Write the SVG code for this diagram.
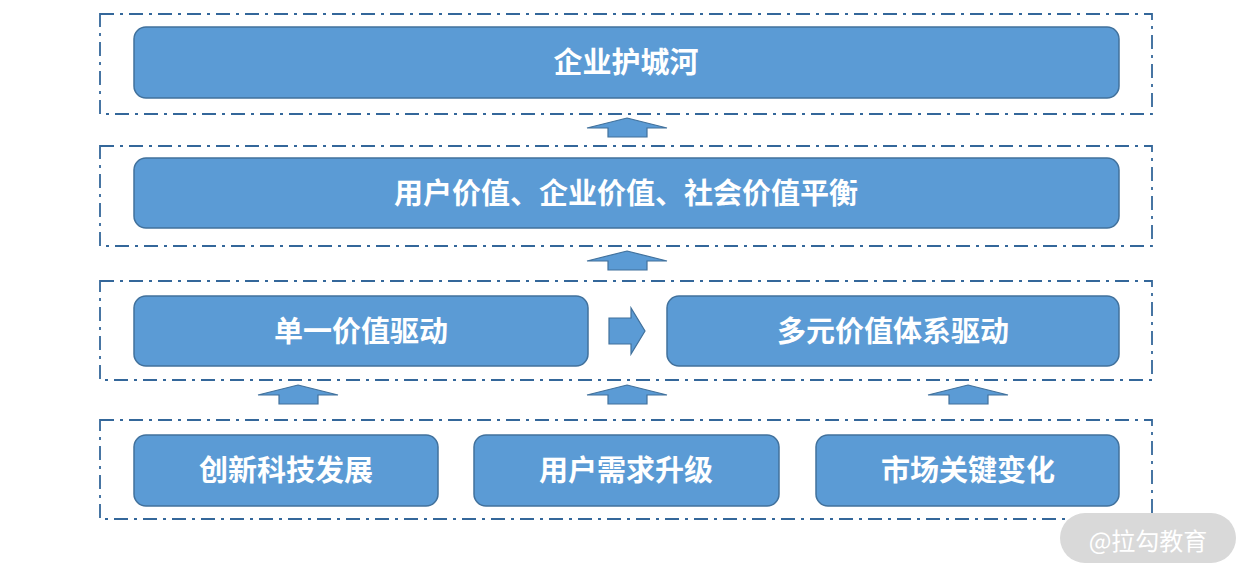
<svg xmlns="http://www.w3.org/2000/svg" width="1252" height="579" viewBox="0 0 1252 579">
<style>
.frame{fill:none;stroke:#34679a;stroke-width:1.8;stroke-dasharray:14 6 3 6}
.node rect{fill:#5b9bd5;stroke:#41719c;stroke-width:1.5}
.node text{fill:#fff;font-family:"Noto Sans CJK SC","Liberation Sans",sans-serif;font-weight:bold;font-size:29px;text-anchor:middle;dominant-baseline:central}
.arr{fill:#5b9bd5;stroke:#41719c;stroke-width:1.2}
</style>
<rect width="1252" height="579" fill="#fff"/>
<g id="frames">
<rect class="frame" x="100" y="14" width="1052" height="100"/>
<rect class="frame" x="100" y="146" width="1052" height="100"/>
<rect class="frame" x="100" y="281" width="1052" height="99"/>
<rect class="frame" x="100" y="420" width="1052" height="99"/>
</g>
<g id="n1" class="node"><rect x="134" y="27" width="985" height="71" rx="12"/><text x="626" y="60">企业护城河</text></g>
<g id="n2" class="node"><rect x="134" y="158" width="985" height="70" rx="12"/><text x="626" y="191">用户价值、企业价值、社会价值平衡</text></g>
<g id="n3" class="node"><rect x="134" y="296" width="454" height="70" rx="12"/><text x="361" y="329">单一价值驱动</text></g>
<g id="n4" class="node"><rect x="667" y="296" width="452" height="70" rx="12"/><text x="893" y="329">多元价值体系驱动</text></g>
<g id="n5" class="node"><rect x="134" y="435" width="304" height="71" rx="12"/><text x="286" y="468">创新科技发展</text></g>
<g id="n6" class="node"><rect x="474" y="435" width="305" height="71" rx="12"/><text x="626" y="468">用户需求升级</text></g>
<g id="n7" class="node"><rect x="816" y="435" width="303" height="71" rx="12"/><text x="968" y="468">市场关键变化</text></g>
<g id="connectors">
<polygon class="arr" points="627,118 667,128 647,128 647,137 608,137 608,128 587,128"/>
<polygon class="arr" points="627,251 667,261 647,261 647,270 608,270 608,261 587,261"/>
<polygon class="arr" points="298,385 338,395 318,395 318,404 279,404 279,395 258,395"/>
<polygon class="arr" points="627,385 667,395 647,395 647,404 608,404 608,395 587,395"/>
<polygon class="arr" points="968,385 1008,395 988,395 988,404 949,404 949,395 928,395"/>
<polygon class="arr" points="609,318 631,318 631,308 645,331 631,354 631,344 609,344"/>
</g>
<g id="watermark">
<rect x="1060" y="513" width="176" height="50" rx="25" fill="#d9d9d9"/>
<text x="1148" y="539" fill="#fff" font-family="Noto Sans CJK SC,sans-serif" font-size="24" text-anchor="middle" dominant-baseline="central">@拉勾教育</text>
</g>
</svg>
